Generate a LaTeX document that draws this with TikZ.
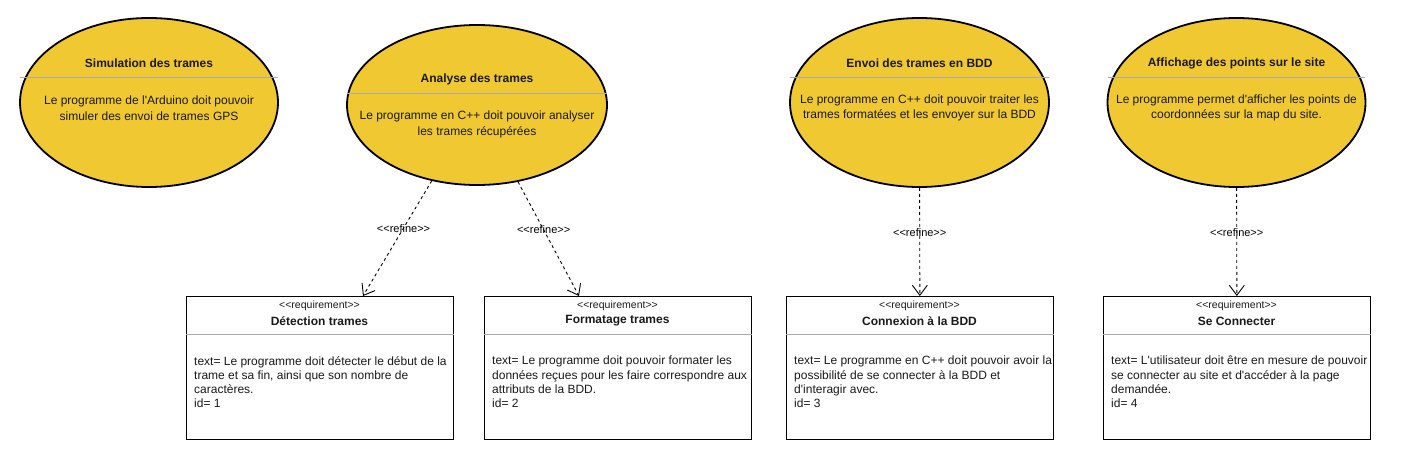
\documentclass[tikz,border=0pt]{standalone}
\usepackage{fontspec}
\setmainfont{Liberation Sans}[Ligatures=TeXOff]
\usetikzlibrary{shapes.geometric,arrows.meta,calc}
\definecolor{ucfill}{HTML}{F0C832}
\definecolor{sepgray}{HTML}{ABABAB}
\definecolor{txt}{HTML}{1A1A1A}
\begin{document}
\begin{tikzpicture}[x=1pt,y=-1pt,
 uc/.style={ellipse,draw=black,line width=1.8pt,fill=ucfill,inner sep=0pt,minimum width=258pt,minimum height=169pt},
 uctitle/.style={font=\fontsize{12}{14}\selectfont\bfseries,text=txt,inner sep=0pt},
 ucbody/.style={font=\fontsize{12}{15.5}\selectfont,align=center,text=txt,inner sep=0pt},
 sepline/.style={draw=sepgray,line width=1pt},
 req/.style={draw=black,line width=0.9pt,fill=white,minimum width=267pt,minimum height=143pt,inner sep=0pt,anchor=north west},
 stereo/.style={font=\fontsize{10.5}{12}\selectfont,text=txt,inner sep=0pt},
 reqname/.style={font=\fontsize{12}{14}\selectfont\bfseries,text=txt,inner sep=0pt},
 reqbody/.style={font=\fontsize{12}{14.2}\selectfont,align=left,text=txt,inner sep=0pt,anchor=north west},
 refine/.style={draw=black,line width=0.9pt,dash pattern=on 3pt off 3pt,-{Straight Barb[length=10pt,width=15pt]}},
 reflabel/.style={font=\fontsize{11}{12}\selectfont,text=black,inner sep=0pt}
]
\path[use as bounding box,fill=white] (0,0) rectangle (1406,474);

% use cases
\node[uc] (e1) at (149,102.5) {};
\node[uc,minimum width=260pt,minimum height=160pt] (e2) at (477,105) {};
\node[uc,minimum width=259pt] (e3) at (919.5,102.5) {};
\node[uc] (e4) at (1236.5,102.5) {};

\draw[sepline] ([xshift=1pt,yshift=25.5pt]e1.west) -- ([xshift=-1pt,yshift=25.5pt]e1.east);
\draw[sepline] ([xshift=1pt,yshift=12pt]e2.west) -- ([xshift=-1pt,yshift=12pt]e2.east);
\draw[sepline] ([xshift=1pt,yshift=25.5pt]e3.west) -- ([xshift=-1pt,yshift=25.5pt]e3.east);
\draw[sepline] ([xshift=1pt,yshift=25.5pt]e4.west) -- ([xshift=-1pt,yshift=25.5pt]e4.east);

\node[uctitle] (e1t) at (149,63) {Simulation des trames};
\node[ucbody] (e1b) at (149,108) {Le programme de l'Arduino doit pouvoir\\simuler des envoi de trames GPS};
\node[uctitle] (e2t) at (477,79) {Analyse des trames};
\node[ucbody] (e2b) at (477,124.5) {Le programme en C++ doit pouvoir analyser\\les trames récupérées};
\node[uctitle] (e3t) at (919.5,63) {Envoi des trames en BDD};
\node[ucbody] (e3b) at (919.5,108) {Le programme en C++ doit pouvoir traiter les\\trames formatées et les envoyer sur la BDD};
\node[uctitle] (e4t) at (1236.5,63) {Affichage des points sur le site};
\node[ucbody] (e4b) at (1236.5,108) {Le programme permet d'afficher les points de\\coordonnées sur la map du site.};

% requirements
\node[req] (r1) at (186,296) {};
\node[req] (r2) at (484,296) {};
\node[req] (r3) at (786,296) {};
\node[req] (r4) at (1103,296) {};

\foreach \r in {r1,r2,r3,r4}{
  \draw[sepline] ([yshift=-38pt]\r.north west) -- ([yshift=-38pt]\r.north east);
}

\node[stereo] (r1s) at (319.5,306) {<<requirement>>};
\node[reqname] (r1n) at (319.5,321) {Détection trames};
\node[reqbody] (r1b) at (194,356) {text= Le programme doit détecter le début de la\\trame et sa fin, ainsi que son nombre de\\caractères.\\id= 1};

\node[stereo] (r2s) at (617.5,306) {<<requirement>>};
\node[reqname] (r2n) at (617.5,321) {Formatage trames};
\node[reqbody] (r2b) at (492,356) {text= Le programme doit pouvoir formater les\\données reçues pour les faire correspondre aux\\attributs de la BDD.\\id= 2};

\node[stereo] (r3s) at (919.5,306) {<<requirement>>};
\node[reqname] (r3n) at (919.5,321) {Connexion à la BDD};
\node[reqbody] (r3b) at (794,356) {text= Le programme en C++ doit pouvoir avoir la\\possibilité de se connecter à la BDD et\\d'interagir avec.\\id= 3};

\node[stereo] (r4s) at (1236.5,306) {<<requirement>>};
\node[reqname] (r4n) at (1236.5,321) {Se Connecter};
\node[reqbody] (r4b) at (1111,356) {text= L'utilisateur doit être en mesure de pouvoir\\se connecter au site et d'accéder à la page\\demandée.\\id= 4};

% refine connectors
\coordinate (t1) at ([xshift=177pt]r1.north west);
\coordinate (t2) at ([xshift=95pt]r2.north west);
\draw[refine] (e2) -- node[reflabel,pos=0.41] (l1) {<<refine>>} (t1);
\draw[refine] (e2) -- node[reflabel,pos=0.42] (l2) {<<refine>>} (t2);
\draw[refine] (e3) -- node[reflabel,pos=0.41] (l3) {<<refine>>} (r3);
\draw[refine] (e4) -- node[reflabel,pos=0.41] (l4) {<<refine>>} (r4);
\end{tikzpicture}
\end{document}
